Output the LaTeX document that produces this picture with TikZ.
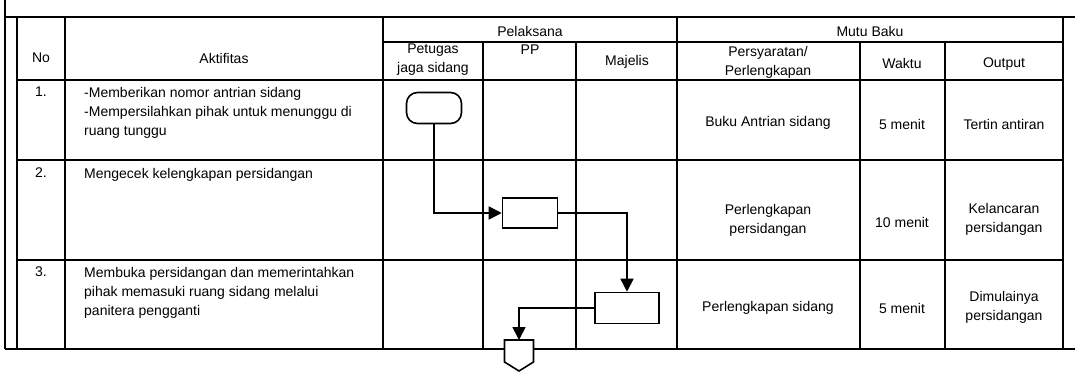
\documentclass[tikz,border=0pt]{standalone}
\usepackage{fontspec}
\setmainfont{Liberation Sans}
\usetikzlibrary{arrows.meta}

\begin{document}
\begin{tikzpicture}[x=1pt,y=-1pt,
    grid/.style={line width=1.3pt},
    txt/.style={font=\fontsize{14}{19}\selectfont, inner sep=0pt, align=center},
    ltxt/.style={txt, anchor=north west, align=left},
    flowbox/.style={draw, line width=1.6pt, minimum width=55pt, minimum height=30pt, inner sep=0pt},
    flow/.style={line width=1.7pt, -{Triangle[length=13pt,width=13pt]}}]
    \useasboundingbox (0,0) rectangle (1075,372);

    % Outer frame
    \draw[grid] (5,0) -- (5,349);
    \draw[grid] (5,17) -- (1075,17);
    \draw[grid, line width=1.7pt] (5,349) -- (1075,349);

    % Table lines
    \draw[grid] (17,17) -- (17,349);
    \draw[grid] (1063,17) -- (1063,349);
    \draw[grid] (383,42) -- (1063,42);
    \draw[grid] (17,80) -- (1063,80);
    \draw[grid] (17,160) -- (1063,160);
    \draw[grid] (17,260) -- (1063,260);
    \foreach \x in {65,383,677} {
        \draw[grid] (\x,17) -- (\x,349);
    }
    \foreach \x in {483,576,860,945} {
        \draw[grid] (\x,42) -- (\x,349);
    }

    % Header
    \node[txt] (hno) at (41,58) {No};
    \node[txt] (hakt) at (224,58) {Aktifitas};
    \node[txt] (hpel) at (530,31) {Pelaksana};
    \node[txt] (hpet) at (433,60) {Petugas\\jaga sidang};
    \node[txt] (hpp) at (530,50) {PP};
    \node[txt] (hmaj) at (627,62) {Majelis};
    \node[txt] (hmutu) at (870,31) {Mutu Baku};
    \node[txt] (hsyarat) at (768,62) {Persyaratan/\\Perlengkapan};
    \node[txt] (hwaktu) at (902,63) {Waktu};
    \node[txt] (hout) at (1004,64) {Output};

    % Row 1
    \node[txt] (no1) at (41,92) {1.};
    \node[ltxt] (akt1) at (84,87) {-Memberikan nomor antrian sidang\\-Mempersilahkan pihak untuk menunggu di\\ruang tunggu};
    \node[txt] (syarat1) at (768,123) {Buku Antrian sidang};
    \node[txt] (waktu1) at (902,124) {5 menit};
    \node[txt] (out1) at (1004,124) {Tertin antiran};

    % Row 2
    \node[txt] (no2) at (41,173) {2.};
    \node[ltxt] (akt2) at (84,168) {Mengecek kelengkapan persidangan};
    \node[txt] (syarat2) at (768,220) {Perlengkapan\\persidangan};
    \node[txt] (waktu2) at (902,222) {10 menit};
    \node[txt] (out2) at (1004,219) {Kelancaran\\persidangan};

    % Row 3
    \node[txt] (no3) at (41,272) {3.};
    \node[ltxt] (akt3) at (84,267) {Membuka persidangan dan memerintahkan\\pihak memasuki ruang sidang melalui\\panitera pengganti};
    \node[txt] (syarat3) at (768,308) {Perlengkapan sidang};
    \node[txt] (waktu3) at (902,308) {5 menit};
    \node[txt] (out3) at (1004,307) {Dimulainya\\persidangan};

    % Flow
    \node[flowbox, rounded corners=11pt, minimum height=31pt] (mulai) at (434,108) {};
    \node[flowbox] (cekpp) at (530,213) {};
    \node[flowbox, minimum width=64pt, minimum height=31pt] (bukamaj) at (627,308) {};
    % off-page connector
    \coordinate (lanjut) at (519,340);
    \filldraw[fill=white, line width=1.6pt, line join=miter]
        (504.5,340) -- (533.5,340) -- (533.5,362) -- (519,371) -- (504.5,362) -- cycle;

    \draw[flow] (mulai.south) |- (cekpp.west);
    \draw[flow] (cekpp.east) -| (bukamaj.north);
    \draw[flow] (bukamaj.west) -| (lanjut);
\end{tikzpicture}
\end{document}
